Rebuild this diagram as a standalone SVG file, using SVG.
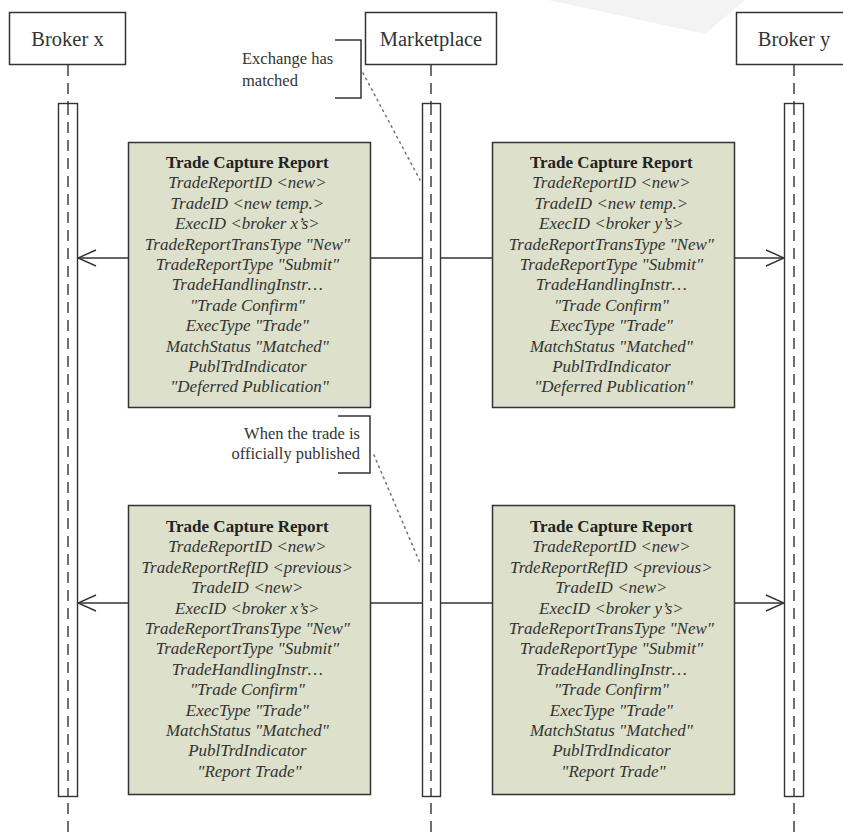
<svg xmlns="http://www.w3.org/2000/svg" width="843" height="835" viewBox="0 0 843 835">
  <style>
    .hdr { fill: #fff; stroke: #333; stroke-width: 1.5; }
    .hdr-t { font-family: "Liberation Serif", "Times New Roman", serif; font-size: 20.5px; fill: #333; text-anchor: middle; }
    .life { stroke: #333; stroke-width: 1.4; stroke-dasharray: 11 7; fill: none; }
    .bar { fill: #fff; stroke: #333; stroke-width: 1.4; }
    .msg { fill: #dde0cb; stroke: #333; stroke-width: 1.5; }
    .msg-t { font-family: "Liberation Serif", "Times New Roman", serif; font-size: 17px; fill: #333; text-anchor: middle; font-style: italic; }
    .msg-t .title { font-weight: bold; font-style: normal; fill: #222; }
    .note-t { font-family: "Liberation Serif", "Times New Roman", serif; font-size: 16.5px; fill: #333; }
    .bracket { fill: none; stroke: #333; stroke-width: 1.5; }
    .dots { fill: none; stroke: #777; stroke-width: 1.6; stroke-dasharray: 1.5 4.5; stroke-linecap: round; }
    .arrow { stroke: #333; stroke-width: 1.4; fill: none; }
  </style>
  <defs>
    <marker id="open" viewBox="0 0 20 20" refX="19" refY="10" markerWidth="20" markerHeight="20" markerUnits="userSpaceOnUse" orient="auto">
      <path d="M1,2 L19,10 L1,18" fill="none" stroke="#333" stroke-width="1.4"/>
    </marker>
  </defs>

  <rect width="843" height="835" fill="#fff"/>
  <!-- faint streak along the top edge -->
  <polygon points="548,0 745,0 705,34" fill="#f3f3f3"/>

  <!-- lifelines -->
  <g id="lifelines">
    <line class="life" x1="68" y1="65" x2="68" y2="835"/>
    <line class="life" x1="431" y1="65" x2="431" y2="835"/>
    <line class="life" x1="794" y1="65" x2="794" y2="835"/>
  </g>

  <!-- participants -->
  <g id="broker-x">
    <rect class="hdr" x="9.5" y="12.5" width="116" height="52"/>
    <text class="hdr-t" x="67.5" y="46">Broker x</text>
    <rect class="bar" x="58.5" y="103.5" width="19" height="693"/>
    <line class="life" x1="68" y1="104" x2="68" y2="796"/>
  </g>
  <g id="marketplace">
    <rect class="hdr" x="365.5" y="12.5" width="131" height="52"/>
    <text class="hdr-t" x="431" y="46">Marketplace</text>
    <rect class="bar" x="422.5" y="103.5" width="18" height="693"/>
    <line class="life" x1="431" y1="104" x2="431" y2="796"/>
  </g>
  <g id="broker-y">
    <rect class="hdr" x="736.5" y="12.5" width="116" height="52"/>
    <text class="hdr-t" x="794" y="46">Broker y</text>
    <rect class="bar" x="784.5" y="103.5" width="19" height="693"/>
    <line class="life" x1="794" y1="104" x2="794" y2="796"/>
  </g>

  <!-- messages -->
  <g id="connectors">
    <line class="arrow" x1="422" y1="258" x2="78" y2="258" marker-end="url(#open)"/>
    <line class="arrow" x1="441" y1="258" x2="784" y2="258" marker-end="url(#open)"/>
    <line class="arrow" x1="422" y1="603" x2="78" y2="603" marker-end="url(#open)"/>
    <line class="arrow" x1="441" y1="603" x2="784" y2="603" marker-end="url(#open)"/>
    <line class="dots" x1="363" y1="73" x2="420" y2="180"/>
    <line class="dots" x1="374" y1="455" x2="420" y2="563"/>
  </g>

  <!-- notes -->
  <g id="note-matched">
    <path class="bracket" d="M335,40 H361 V98 H335"/>
    <text class="note-t" x="242" y="64">Exchange has</text>
    <text class="note-t" x="242" y="86">matched</text>
  </g>
  <g id="note-published">
    <path class="bracket" d="M338,416 H370 V473 H338"/>
    <text class="note-t" x="360" y="439" text-anchor="end">When the trade is</text>
    <text class="note-t" x="360" y="459" text-anchor="end">officially published</text>
  </g>

  <!-- first round: trade capture reports -->
  <g id="tcr-x-1">
    <rect class="msg" x="128.5" y="142.5" width="242" height="265"/>
    <text class="msg-t">
      <tspan class="title" x="249.5" y="168">Trade Capture Report</tspan>
      <tspan x="249.5" y="188.4">TradeReportID &lt;new&gt;</tspan>
      <tspan x="249.5" y="208.8">TradeID &lt;new temp.&gt;</tspan>
      <tspan x="249.5" y="229.2">ExecID &lt;broker x’s&gt;</tspan>
      <tspan x="249.5" y="249.6">TradeReportTransType "New"</tspan>
      <tspan x="249.5" y="270">TradeReportType "Submit"</tspan>
      <tspan x="249.5" y="290.4">TradeHandlingInstr…</tspan>
      <tspan x="249.5" y="310.8">"Trade Confirm"</tspan>
      <tspan x="249.5" y="331.2">ExecType "Trade"</tspan>
      <tspan x="249.5" y="351.6">MatchStatus "Matched"</tspan>
      <tspan x="249.5" y="372">PublTrdIndicator</tspan>
      <tspan x="249.5" y="392.4">"Deferred Publication"</tspan>
    </text>
  </g>
  <g id="tcr-y-1">
    <rect class="msg" x="492.5" y="142.5" width="242" height="265"/>
    <text class="msg-t">
      <tspan class="title" x="613.5" y="168">Trade Capture Report</tspan>
      <tspan x="613.5" y="188.4">TradeReportID &lt;new&gt;</tspan>
      <tspan x="613.5" y="208.8">TradeID &lt;new temp.&gt;</tspan>
      <tspan x="613.5" y="229.2">ExecID &lt;broker y’s&gt;</tspan>
      <tspan x="613.5" y="249.6">TradeReportTransType "New"</tspan>
      <tspan x="613.5" y="270">TradeReportType "Submit"</tspan>
      <tspan x="613.5" y="290.4">TradeHandlingInstr…</tspan>
      <tspan x="613.5" y="310.8">"Trade Confirm"</tspan>
      <tspan x="613.5" y="331.2">ExecType "Trade"</tspan>
      <tspan x="613.5" y="351.6">MatchStatus "Matched"</tspan>
      <tspan x="613.5" y="372">PublTrdIndicator</tspan>
      <tspan x="613.5" y="392.4">"Deferred Publication"</tspan>
    </text>
  </g>

  <!-- second round: published reports -->
  <g id="tcr-x-2">
    <rect class="msg" x="128.5" y="505.5" width="242" height="289"/>
    <text class="msg-t">
      <tspan class="title" x="249.5" y="532">Trade Capture Report</tspan>
      <tspan x="249.5" y="552.4">TradeReportID &lt;new&gt;</tspan>
      <tspan x="249.5" y="572.8">TradeReportRefID &lt;previous&gt;</tspan>
      <tspan x="249.5" y="593.2">TradeID &lt;new&gt;</tspan>
      <tspan x="249.5" y="613.6">ExecID &lt;broker x’s&gt;</tspan>
      <tspan x="249.5" y="634">TradeReportTransType "New"</tspan>
      <tspan x="249.5" y="654.4">TradeReportType "Submit"</tspan>
      <tspan x="249.5" y="674.8">TradeHandlingInstr…</tspan>
      <tspan x="249.5" y="695.2">"Trade Confirm"</tspan>
      <tspan x="249.5" y="715.6">ExecType "Trade"</tspan>
      <tspan x="249.5" y="736">MatchStatus "Matched"</tspan>
      <tspan x="249.5" y="756.4">PublTrdIndicator</tspan>
      <tspan x="249.5" y="776.8">"Report Trade"</tspan>
    </text>
  </g>
  <g id="tcr-y-2">
    <rect class="msg" x="492.5" y="505.5" width="242" height="289"/>
    <text class="msg-t">
      <tspan class="title" x="613.5" y="532">Trade Capture Report</tspan>
      <tspan x="613.5" y="552.4">TradeReportID &lt;new&gt;</tspan>
      <tspan x="613.5" y="572.8">TrdeReportRefID &lt;previous&gt;</tspan>
      <tspan x="613.5" y="593.2">TradeID &lt;new&gt;</tspan>
      <tspan x="613.5" y="613.6">ExecID &lt;broker y’s&gt;</tspan>
      <tspan x="613.5" y="634">TradeReportTransType "New"</tspan>
      <tspan x="613.5" y="654.4">TradeReportType "Submit"</tspan>
      <tspan x="613.5" y="674.8">TradeHandlingInstr…</tspan>
      <tspan x="613.5" y="695.2">"Trade Confirm"</tspan>
      <tspan x="613.5" y="715.6">ExecType "Trade"</tspan>
      <tspan x="613.5" y="736">MatchStatus "Matched"</tspan>
      <tspan x="613.5" y="756.4">PublTrdIndicator</tspan>
      <tspan x="613.5" y="776.8">"Report Trade"</tspan>
    </text>
  </g>
</svg>
